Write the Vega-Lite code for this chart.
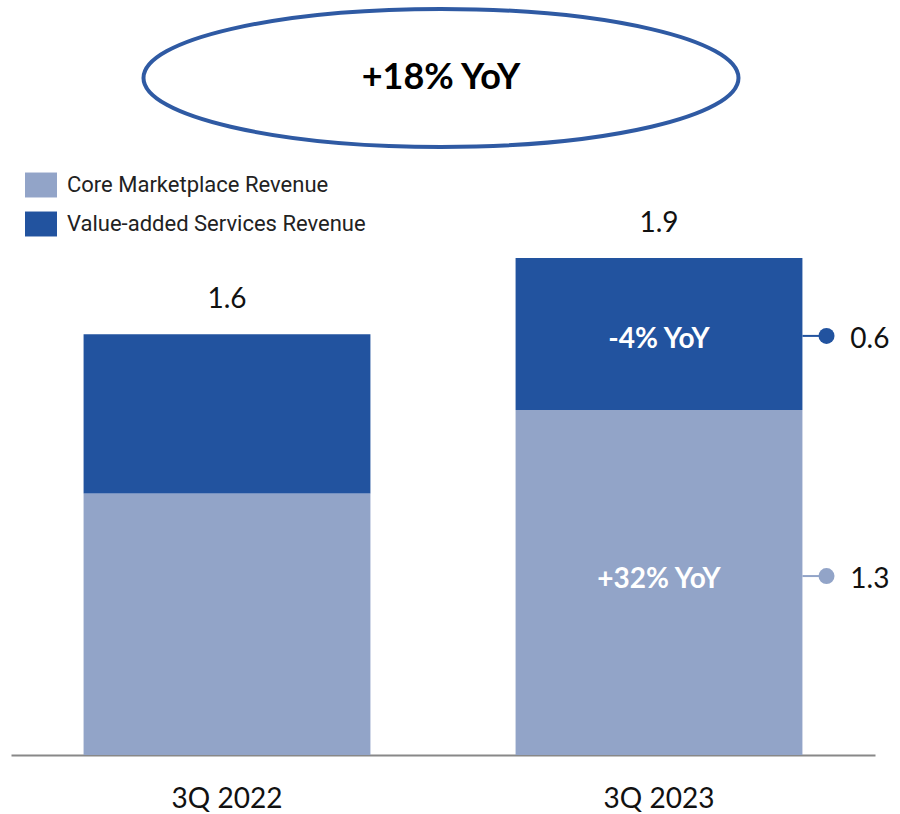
{
  "$schema": "https://vega.github.io/schema/vega-lite/v6.json",
  "width": 864,
  "height": 755,
  "autosize": {"type": "none"},
  "padding": {"left": 11, "top": 0, "right": 25, "bottom": 59},
  "background": "white",
  "config": {"view": {"stroke": null}, "font": "Lato"},
  "datasets": {
    "bars": [
      {"quarter": "3Q 2022", "segment": "Core Marketplace Revenue", "rank": 1, "value": 1.0},
      {"quarter": "3Q 2022", "segment": "Value-added Services Revenue", "rank": 2, "value": 0.608},
      {"quarter": "3Q 2023", "segment": "Core Marketplace Revenue", "rank": 1, "value": 1.319},
      {"quarter": "3Q 2023", "segment": "Value-added Services Revenue", "rank": 2, "value": 0.581}
    ],
    "totals": [
      {"quarter": "3Q 2022", "total": 1.608, "label": "1.6"},
      {"quarter": "3Q 2023", "total": 1.9, "label": "1.9"}
    ],
    "callouts": [
      {"quarter": "3Q 2023", "segment": "Value-added Services Revenue", "pos": 1.602, "yoy": "-4% YoY", "label": "0.6"},
      {"quarter": "3Q 2023", "segment": "Core Marketplace Revenue", "pos": 0.684, "yoy": "+32% YoY", "label": "1.3"}
    ],
    "headline": [
      {"quarter": "3Q 2022", "pos": 2.588, "text": "+18% YoY"}
    ]
  },
  "layer": [
    {
      "data": {"name": "bars"},
      "mark": {"type": "bar"},
      "encoding": {
        "x": {
          "field": "quarter", "type": "nominal",
          "scale": {"paddingInner": 0.336, "paddingOuter": 0.168},
          "axis": {"title": null, "labelAngle": 0, "labelFontSize": 28, "labelColor": "#111111", "labelPadding": 30, "ticks": false, "tickSize": 0, "domainColor": "#888888", "domainWidth": 2, "labelFont": "Lato"}
        },
        "y": {"field": "value", "type": "quantitative", "stack": "zero", "scale": {"domain": [0, 2.886], "nice": false}, "axis": null},
        "order": {"field": "rank", "type": "quantitative", "sort": "ascending"},
        "color": {
          "field": "segment", "type": "nominal",
          "scale": {"domain": ["Core Marketplace Revenue", "Value-added Services Revenue"], "range": ["#92A4C8", "#22539F"]},
          "legend": {"title": null, "orient": "none", "legendX": 14, "legendY": 169, "symbolType": "M-1,-0.78H1V0.78H-1Z", "symbolSize": 1024, "symbolStrokeWidth": 0, "symbolOpacity": 1, "labelFontSize": 22, "labelFont": "Roboto", "labelColor": "#222222", "labelLimit": 0, "rowPadding": 10, "labelOffset": 10, "padding": 0}
        }
      }
    },
    {
      "data": {"name": "totals"},
      "mark": {"type": "text", "baseline": "alphabetic", "dy": -26, "fontSize": 28, "color": "#111111", "font": "Lato"},
      "encoding": {
        "x": {"field": "quarter", "type": "nominal"},
        "y": {"field": "total", "type": "quantitative"},
        "text": {"field": "label"}
      }
    },
    {
      "data": {"name": "callouts"},
      "mark": {"type": "text", "baseline": "middle", "dy": 4, "fontSize": 28, "fontWeight": "bold", "color": "white", "font": "Lato"},
      "encoding": {
        "x": {"field": "quarter", "type": "nominal"},
        "y": {"field": "pos", "type": "quantitative"},
        "text": {"field": "yoy"}
      }
    },
    {
      "data": {"name": "callouts"},
      "mark": {"type": "rule", "strokeWidth": 2},
      "encoding": {
        "x": {"field": "quarter", "type": "nominal", "bandPosition": 1},
        "x2": {"field": "quarter", "bandPosition": 1.084},
        "y": {"field": "pos", "type": "quantitative"},
        "color": {"field": "segment", "type": "nominal", "legend": null}
      }
    },
    {
      "data": {"name": "callouts"},
      "mark": {"type": "point", "filled": true, "size": 256, "opacity": 1, "shape": "circle"},
      "encoding": {
        "x": {"field": "quarter", "type": "nominal", "bandPosition": 1.084},
        "y": {"field": "pos", "type": "quantitative"},
        "color": {"field": "segment", "type": "nominal", "legend": null}
      }
    },
    {
      "data": {"name": "callouts"},
      "mark": {"type": "text", "align": "left", "baseline": "middle", "dy": 4, "fontSize": 28, "color": "#111111", "font": "Lato"},
      "encoding": {
        "x": {"field": "quarter", "type": "nominal", "bandPosition": 1.167},
        "y": {"field": "pos", "type": "quantitative"},
        "text": {"field": "label"}
      }
    },
    {
      "data": {"name": "headline"},
      "mark": {"type": "point", "filled": false, "shape": "M -1 0 A 1 0.232 0 1 0 1 0 A 1 0.232 0 1 0 -1 0", "size": 354025, "stroke": "#2F5AA3", "strokeWidth": 4, "opacity": 1},
      "encoding": {
        "x": {"field": "quarter", "type": "nominal", "bandPosition": 1.246},
        "y": {"field": "pos", "type": "quantitative"}
      }
    },
    {
      "data": {"name": "headline"},
      "mark": {"type": "text", "baseline": "middle", "fontSize": 36, "fontWeight": "bold", "color": "black", "font": "Lato"},
      "encoding": {
        "x": {"field": "quarter", "type": "nominal", "bandPosition": 1.246},
        "y": {"field": "pos", "type": "quantitative"},
        "text": {"field": "text"}
      }
    }
  ]
}
